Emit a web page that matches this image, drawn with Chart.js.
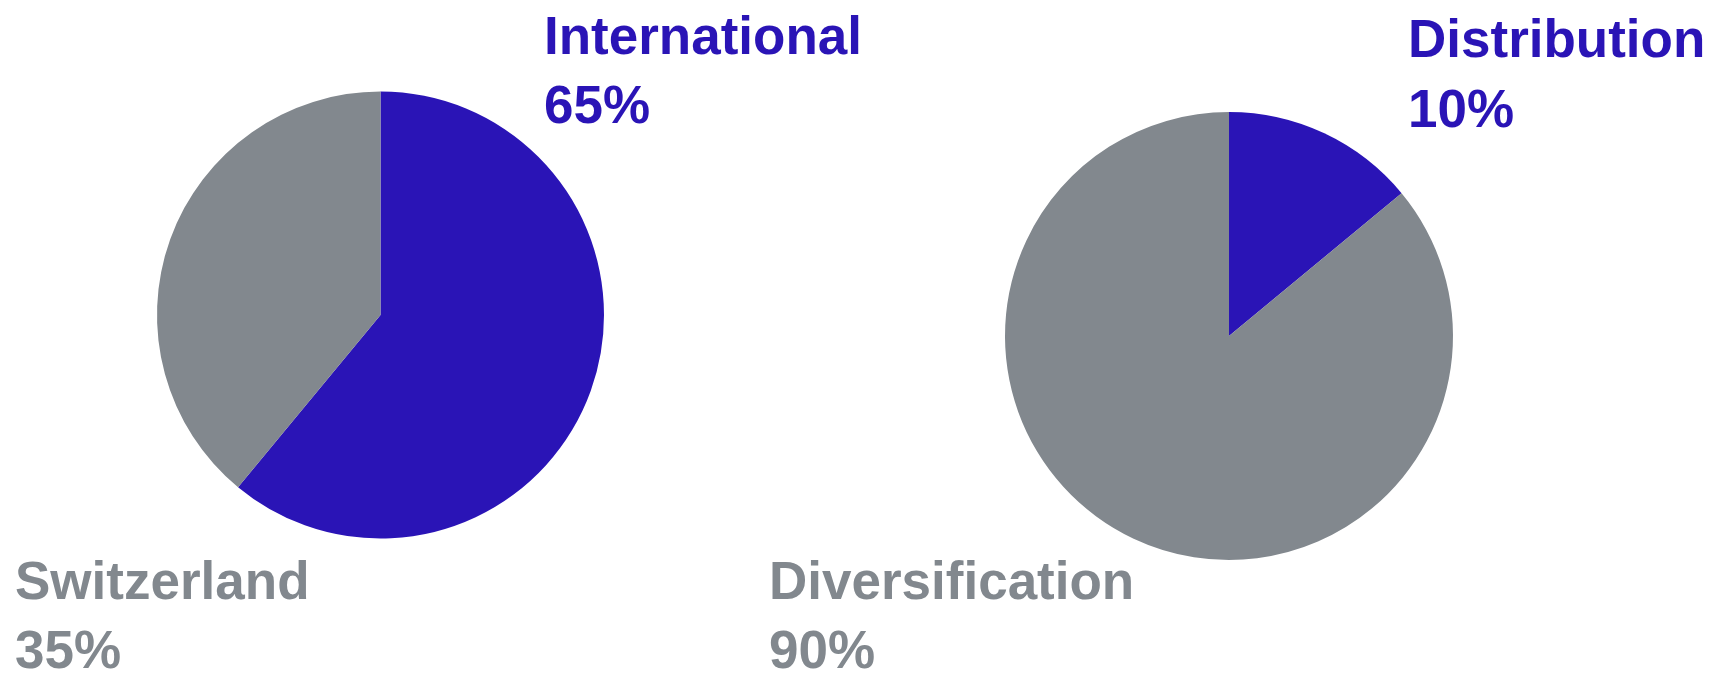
<!DOCTYPE html>
<html>
<head>
<meta charset="utf-8">
<script src="https://cdn.jsdelivr.net/npm/chart.js@4"></script>
<style>
    html, body { margin: 0; padding: 0; background: #ffffff; }
    #wrap { position: relative; width: 1712px; height: 674px; }
    #wrap canvas { position: absolute; left: 0; top: 0; }
</style>
</head>
<body>
<div id="wrap">
    <canvas id="pieLeft" width="1712" height="674"></canvas>
    <canvas id="pieRight" width="1712" height="674"></canvas>
</div>
<script>
// Dados
const leftCategories = ['International', 'Switzerland'];
const leftShares = [61, 39];          // tamanho das fatias como desenhadas
const leftLabels = ['65%', '35%'];    // texto dos rótulos

const rightCategories = ['Distribution', 'Diversification'];
const rightShares = [14, 86];
const rightLabels = ['10%', '90%'];

const BLUE = '#2a14b6';
const GREY = '#82888e';

// Plugin simples para escrever os rótulos (nome + percentagem)
const pieLabels = {
    id: 'pieLabels',
    afterDraw(chart, args, opts) {
        const ctx = chart.ctx;
        ctx.save();
        ctx.font = 'bold 53px "Liberation Sans", Arial, sans-serif';
        ctx.textBaseline = 'alphabetic';
        ctx.textAlign = 'left';
        const ds = chart.data.datasets[0];
        opts.items.forEach((item, i) => {
            ctx.fillStyle = ds.backgroundColor[i];
            ctx.fillText(chart.data.labels[i], item.x, item.y1);
            ctx.fillText(opts.texts[i], item.x, item.y2);
        });
        ctx.restore();
    }
};

function renderPie(canvasId, categories, shares, texts, padding, items) {
    const ctx = document.getElementById(canvasId).getContext('2d');
    return new Chart(ctx, {
        type: 'pie',
        data: {
            labels: categories,
            datasets: [{
                data: shares,
                backgroundColor: [BLUE, GREY],
                borderWidth: 0
            }]
        },
        options: {
            responsive: false,
            animation: false,
            layout: { padding: padding },
            plugins: {
                legend: { display: false },
                tooltip: { enabled: false },
                pieLabels: { items: items, texts: texts }
            }
        },
        plugins: [pieLabels]
    });
}

renderPie('pieLeft', leftCategories, leftShares, leftLabels,
    { left: 157, right: 1108, top: 91, bottom: 135 },
    [{ x: 544, y1: 54, y2: 123 }, { x: 15, y1: 599, y2: 668 }]);

renderPie('pieRight', rightCategories, rightShares, rightLabels,
    { left: 1005, right: 259, top: 112, bottom: 114 },
    [{ x: 1408, y1: 57, y2: 127 }, { x: 769, y1: 599, y2: 668 }]);
</script>
</body>
</html>
